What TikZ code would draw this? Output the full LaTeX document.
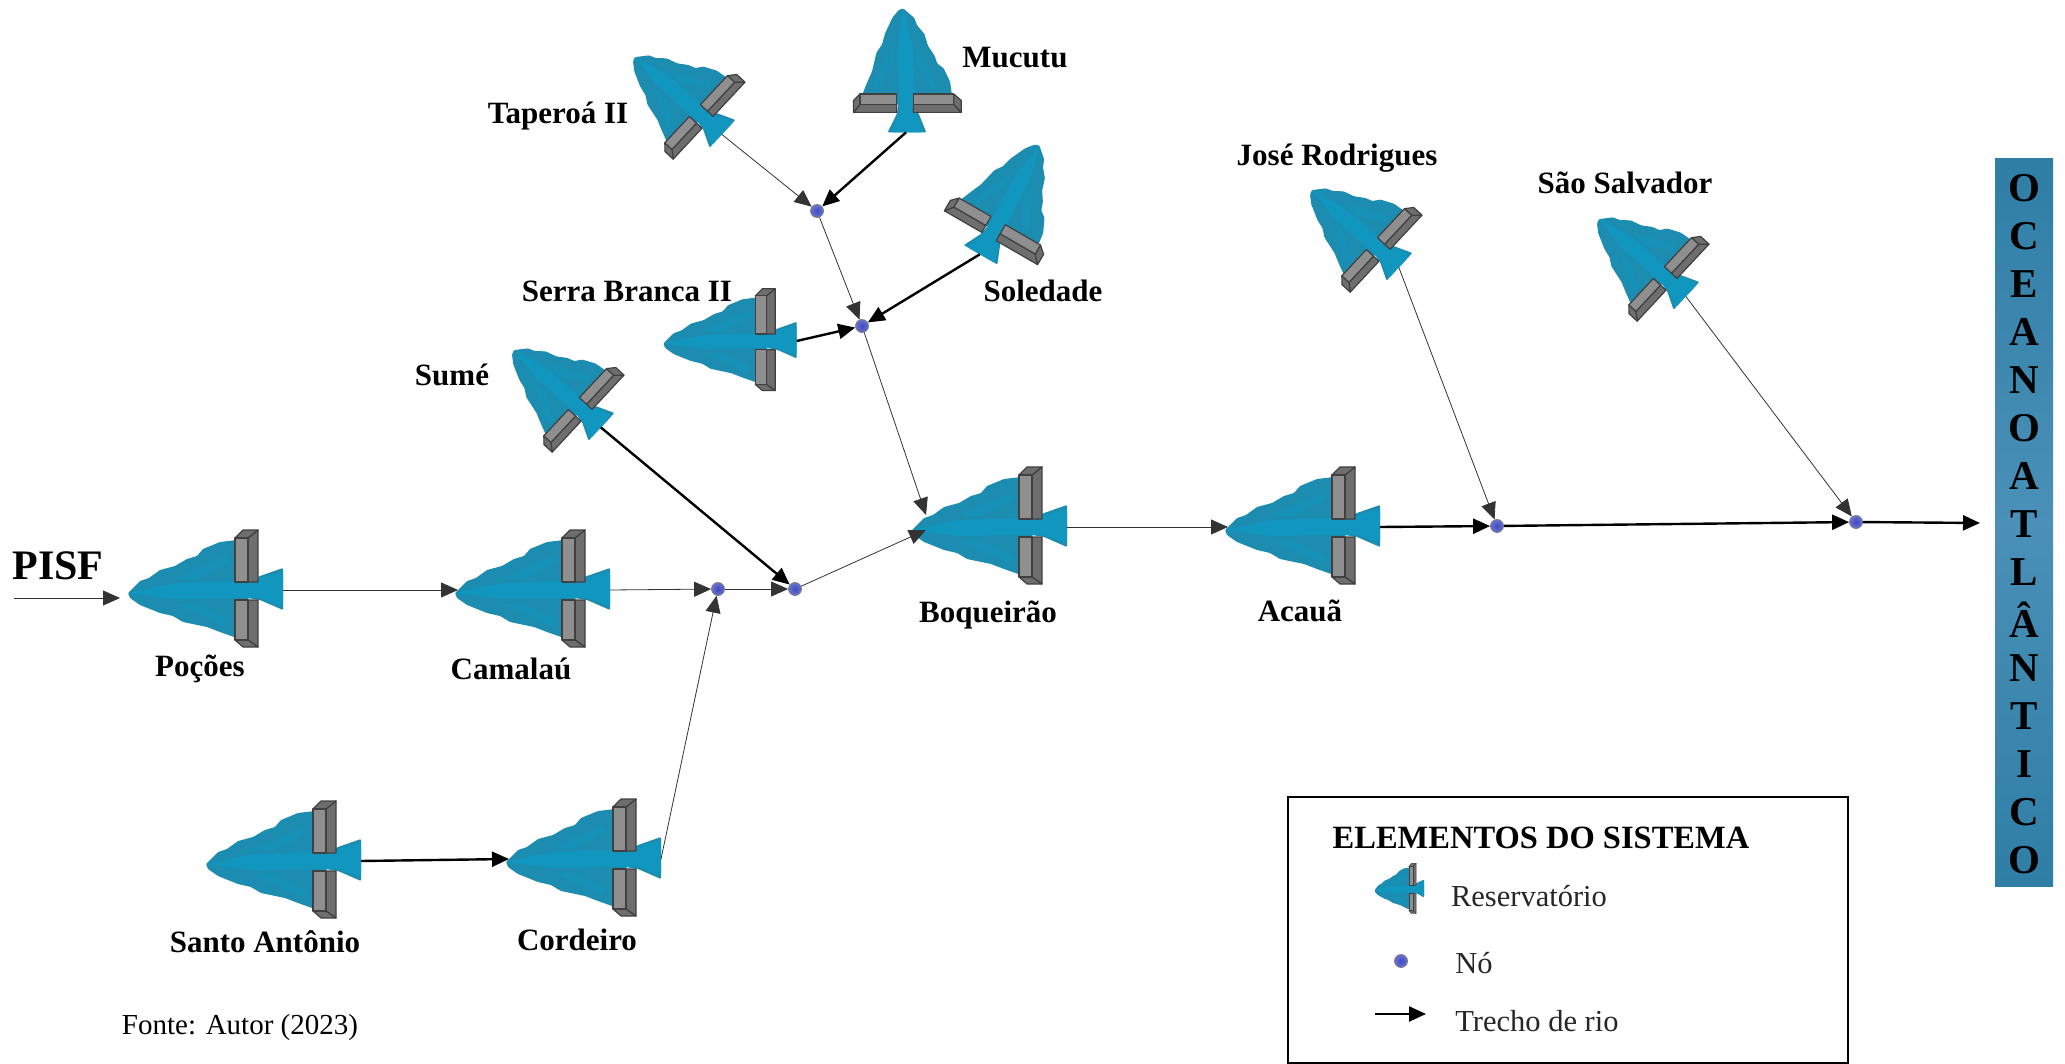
\documentclass[tikz,border=0pt]{standalone}
\usepackage{fontspec}
\setmainfont{Liberation Serif}
\usetikzlibrary{arrows.meta}
\definecolor{aguaEscura}{HTML}{1C8DB0}
\definecolor{aguaClara}{HTML}{1196BF}
\definecolor{concreto}{HTML}{8F8F8F}
\definecolor{concretoEscuro}{HTML}{6E6E6E}
\definecolor{noClaro}{HTML}{6B72CF}
\definecolor{noEscuro}{HTML}{3D4BC0}
\definecolor{marBorda}{HTML}{2F7EA6}
\definecolor{marMeio}{HTML}{4A90B8}
\tikzset{
	rotulo/.style={font=\fontsize{31}{34}\selectfont\bfseries},
	legenda/.style={font=\fontsize{30.5}{33}\selectfont,text=black!85},
	letra/.style={font=\fontsize{41}{44}\selectfont\bfseries},
	no/.style={circle,draw=black!50,line width=.8pt,minimum size=13pt,inner sep=0pt,inner color=noEscuro,outer color=noClaro},
	oceano/.style={minimum width=58pt,minimum height=727pt,inner sep=0pt,top color=marBorda,bottom color=marBorda,middle color=marMeio},
	trecho/.style={line width=.8pt,draw=black!80,-{Triangle[length=17pt,width=15pt]}},
	trechoForte/.style={line width=2.4pt,-{Triangle[length=17pt,width=15pt]}},
	barragem/.style={draw=black!75,line width=1.2pt,line join=round},
	pics/reservatorio/.style={code={
		% lago e canal de saida
		\fill[aguaEscura,rounded corners=1pt] (-117,3) -- (-105,-9) -- (-96,-12) -- (-85,-20) -- (-70,-24) -- (-58,-31) -- (-48,-34) -- (-42,-41) -- (-25,-48) -- (-8,-50) -- (3,-8) -- (15,-14) -- (38,-22) -- (38,20) -- (15,10) -- (3,8) -- (-8,48) -- (-25,42) -- (-38,37) -- (-62,32) -- (-72,26) -- (-85,23) -- (-105,15) -- (-115,8) -- cycle;
		\fill[aguaClara,rounded corners=2pt] (-117,3) -- (-70,-7) -- (-10,-9) -- (15,-12) -- (38,-18) -- (38,16) -- (15,8) -- (-10,8) -- (-70,9) -- cycle;
		\fill[aguaClara,opacity=.5] (-70,-12) -- (-20,-34) -- (-15,-28) -- (-50,-10) -- cycle;
		\fill[aguaClara,opacity=.5] (-70,14) -- (-20,36) -- (-15,30) -- (-50,13) -- cycle;
		% trecho superior da barragem
		\filldraw[barragem,fill=concretoEscuro] (3,-52) -- (13,-60) -- (13,-8) -- (3,-8) -- cycle;
		\filldraw[barragem,fill=concretoEscuro] (-10,-52) -- (-2,-60) -- (13,-60) -- (3,-52) -- cycle;
		\filldraw[barragem,fill=concreto] (-10,-52) rectangle (3,-8);
		% trecho inferior da barragem
		\filldraw[barragem,fill=concretoEscuro] (3,10) -- (13,10) -- (13,57) -- (3,50) -- cycle;
		\filldraw[barragem,fill=concretoEscuro] (-10,50) -- (3,50) -- (13,57) -- (-2,57) -- cycle;
		\filldraw[barragem,fill=concreto] (-10,10) rectangle (3,50);
		% pontos de ligacao
		\coordinate (-in) at (-114,0);
		\coordinate (-baixo) at (-103,3);
		\coordinate (-topo) at (-103,-12);
		\coordinate (-out) at (38,0);
	}},
}
\begin{document}
\begin{tikzpicture}[x=1pt,y=-1pt]
	\useasboundingbox (0,0) rectangle (2065,1064);

	% reservatorios
	\pic (pocoes) at (245,590) {reservatorio};
	\pic (camalau) at (572,590) {reservatorio};
	\pic (santoAntonio) at (323,861) {reservatorio};
	\pic (cordeiro) at (623,859) {reservatorio};
	\pic (boqueirao) at (1029,527) {reservatorio};
	\pic (acaua) at (1342,527) {reservatorio};
	\pic[xscale=.86,yscale=.87] (serraBranca) at (764,341) {reservatorio};
	\pic[rotate=-43,xscale=.75,yscale=.9] (taperoa) at (701,115) {reservatorio};
	\pic[rotate=-90,xscale=.8,yscale=.92] (mucutu) at (906,102) {reservatorio};
	\pic[rotate=-120,xscale=.8,yscale=.92] (soledade) at (995,228) {reservatorio};
	\pic[rotate=-43,xscale=.75,yscale=.9] (sume) at (580,408) {reservatorio};
	\pic[rotate=-43,xscale=.75,yscale=.9] (joseRodrigues) at (1378,248) {reservatorio};
	\pic[rotate=-43,xscale=.75,yscale=.9] (saoSalvador) at (1665,277) {reservatorio};

	% nos
	\node[no] (n1) at (817,211) {};
	\node[no] (n2) at (862,326) {};
	\node[no] (n3) at (795,589) {};
	\node[no] (n4) at (718,589) {};
	\node[no] (n5) at (1497,526) {};
	\node[no] (n6) at (1856,522) {};
	\coordinate (entrada) at (14,598);
	\coordinate (chegada) at (120,598);
	\coordinate (foz) at (1980,523);

	% trechos de rio
	\draw[trecho] (entrada) -- (chegada);
	\draw[trecho] (pocoes-out) -- (camalau-in);
	\draw[trecho] (camalau-out) -- (n4);
	\draw[trecho] (cordeiro-out) -- (n4);
	\draw[trecho] (n4) -- (n3);
	\draw[trecho] (n3) -- (boqueirao-baixo);
	\draw[trecho] (n2) -- (boqueirao-topo);
	\draw[trecho] (n1) -- (n2);
	\draw[trecho] (taperoa-out) -- (n1);
	\draw[trecho] (boqueirao-out) -- (acaua-in);
	\draw[trecho] (joseRodrigues-out) -- (n5);
	\draw[trecho] (saoSalvador-out) -- (n6);
	\draw[trechoForte] (santoAntonio-out) -- (cordeiro-in);
	\draw[trechoForte] (sume-out) -- (n3);
	\draw[trechoForte] (mucutu-out) -- (n1);
	\draw[trechoForte] (soledade-out) -- (n2);
	\draw[trechoForte] (serraBranca-out) -- (n2);
	\draw[trechoForte] (acaua-out) -- (n5);
	\draw[trechoForte] (n5) -- (n6);
	\draw[trechoForte] (n6) -- (foz);

	% nomes
	\node[rotulo,font=\fontsize{42}{45}\selectfont\bfseries] (pisf) at (58,566) {PISF};
	\node[rotulo] (tPocoes) at (200,669) {Poções};
	\node[rotulo] (tCamalau) at (511,669) {Camalaú};
	\node[rotulo] (tSanto) at (265,942) {Santo Antônio};
	\node[rotulo] (tCordeiro) at (577,940) {Cordeiro};
	\node[rotulo] (tBoqueirao) at (988,615) {Boqueirão};
	\node[rotulo] (tAcaua) at (1300,611) {Acauã};
	\node[rotulo] (tSume) at (452,375) {Sumé};
	\node[rotulo] (tSerra) at (627,291) {Serra Branca II};
	\node[rotulo] (tTaperoa) at (558,116) {Taperoá II};
	\node[rotulo] (tMucutu) at (1015,58) {Mucutu};
	\node[rotulo] (tSoledade) at (1043,291) {Soledade};
	\node[rotulo] (tJose) at (1337,158) {José Rodrigues};
	\node[rotulo] (tSao) at (1625,183) {São Salvador};
	\node[font=\fontsize{29}{32}\selectfont] (fonte) at (240,1028) {Fonte: Autor (2023)};

	% oceano
	\node[oceano] (mar) at (2024,522.5) {};
	\foreach \simbolo [count=\i] in {O,C,E,A,N,O,A,T,L,Â,N,T,I,C,O}
		\node[letra] (letra\i) at (2024,140+48*\i) {\simbolo};

	% quadro de legenda
	\draw[line width=2.4pt] (1288,797) rectangle (1848,1063);
	\node[rotulo,font=\fontsize{32.5}{35}\selectfont\bfseries] (tTitulo) at (1541,838) {ELEMENTOS DO SISTEMA};
	\pic[xscale=.32,yscale=.43,barragem/.append style={line width=.4pt}] (iconeR) at (1412,889) {reservatorio};
	\node[legenda] (tReservatorio) at (1529,896) {Reservatório};
	\node[no] (iconeN) at (1401,961) {};
	\node[legenda] (tNo) at (1474,963) {Nó};
	\coordinate (iconeA) at (1375,1014);
	\coordinate (iconeB) at (1426,1014);
	\draw[trechoForte] (iconeA) -- (iconeB);
	\node[legenda] (tTrecho) at (1537,1021) {Trecho de rio};
\end{tikzpicture}
\end{document}
